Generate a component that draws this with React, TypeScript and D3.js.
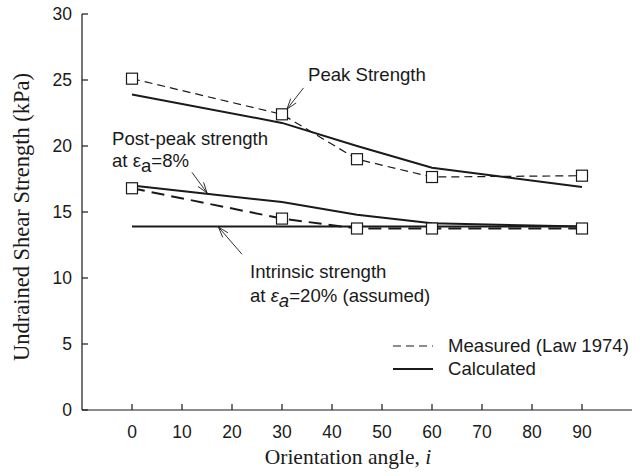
import React from "react";
import * as d3 from "d3";

const angles = [0, 30, 45, 60, 90];
const peakMeasured = [25.1, 22.4, 19.0, 17.65, 17.75];
const peakCalculated = [23.9, 21.75, 20.0, 18.35, 16.9];
const postPeakMeasured = [16.8, 14.5, 13.75, 13.75, 13.75];
const postPeakCalculated = [17.0, 15.75, 14.8, 14.15, 13.9];
const intrinsicAngles = [0, 90];
const intrinsicValues = [13.9, 13.9];
const xTicks = [0, 10, 20, 30, 40, 50, 60, 70, 80, 90];
const yTicks = [0, 5, 10, 15, 20, 25, 30];

const W = 640;
const H = 476;
const LEFT = 82;
const RIGHT = 632;
const TOP = 14;
const BOTTOM = 410;
const INK = "#1a1a1a";
const SANS = "Liberation Sans, Arial, sans-serif";
const SERIF = "Liberation Serif, Times New Roman, serif";
const ANN = 18.6;

export default function App() {
  const x = d3.scaleLinear().domain([-10, 100]).range([LEFT, RIGHT]);
  const y = d3.scaleLinear().domain([0, 30]).range([BOTTOM, TOP]);
  const line = d3
    .line<[number, number]>()
    .x((d) => x(d[0]))
    .y((d) => y(d[1]));
  const pts = (vals: number[], xs: number[] = angles) =>
    xs.map((a, i) => [a, vals[i]] as [number, number]);

  const arrow = (x1: number, y1: number, x2: number, y2: number) => {
    const px1 = x(x1), py1 = y(y1), px2 = x(x2), py2 = y(y2);
    const ang = Math.atan2(py2 - py1, px2 - px1);
    const L = 11, spread = 0.32;
    const a1 = [px2 - L * Math.cos(ang - spread), py2 - L * Math.sin(ang - spread)];
    const a2 = [px2 - L * Math.cos(ang + spread), py2 - L * Math.sin(ang + spread)];
    return (
      <g stroke={INK} strokeWidth={0.9} fill="none">
        <line x1={px1} y1={py1} x2={px2} y2={py2} />
        <path d={`M${a1[0]},${a1[1]}L${px2},${py2}L${a2[0]},${a2[1]}`} />
      </g>
    );
  };

  const squares = (vals: number[]) =>
    angles.map((a, i) => (
      <rect
        key={i}
        x={x(a) - 5.5}
        y={y(vals[i]) - 5.5}
        width={11}
        height={11}
        fill="white"
        stroke={INK}
        strokeWidth={1.2}
      />
    ));

  return (
    <svg
      width={W}
      height={H}
      style={{ position: "absolute", left: 0, top: 0, background: "white" }}
    >
      {/* axes */}
      <line x1={LEFT} y1={TOP} x2={LEFT} y2={BOTTOM} stroke={INK} strokeWidth={1.2} />
      <line x1={LEFT} y1={BOTTOM} x2={RIGHT} y2={BOTTOM} stroke={INK} strokeWidth={1.2} />
      {yTicks.map((t) => (
        <g key={t}>
          <line x1={LEFT} x2={LEFT + 6} y1={y(t)} y2={y(t)} stroke={INK} strokeWidth={1.2} />
          <text
            x={LEFT - 10}
            y={y(t)}
            dy="0.36em"
            textAnchor="end"
            fontFamily={SANS}
            fontSize={17.5}
            fill={INK}
          >
            {t}
          </text>
        </g>
      ))}
      {xTicks.map((t) => (
        <g key={t}>
          <line x1={x(t)} x2={x(t)} y1={BOTTOM} y2={BOTTOM - 6} stroke={INK} strokeWidth={1.2} />
          <text
            x={x(t)}
            y={BOTTOM + 28}
            textAnchor="middle"
            fontFamily={SANS}
            fontSize={17.5}
            fill={INK}
          >
            {t}
          </text>
        </g>
      ))}
      <text
        x={348}
        y={464}
        textAnchor="middle"
        fontFamily={SERIF}
        fontSize={21.5}
        fill={INK}
      >
        Orientation angle, <tspan fontStyle="italic">i</tspan>
      </text>
      <text
        transform={`translate(29,217) rotate(-90)`}
        textAnchor="middle"
        fontFamily={SERIF}
        fontSize={22.5}
        fill={INK}
      >
        Undrained Shear Strength (kPa)
      </text>

      {/* series */}
      <path
        d={line(pts(intrinsicValues, intrinsicAngles)) || ""}
        fill="none"
        stroke={INK}
        strokeWidth={2}
      />
      <path
        d={line(pts(peakCalculated)) || ""}
        fill="none"
        stroke={INK}
        strokeWidth={2}
      />
      <path
        d={line(pts(postPeakCalculated)) || ""}
        fill="none"
        stroke={INK}
        strokeWidth={2}
      />
      <path
        d={line(pts(peakMeasured)) || ""}
        fill="none"
        stroke={INK}
        strokeWidth={1.2}
        strokeDasharray="8,5"
      />
      <path
        d={line(pts(postPeakMeasured)) || ""}
        fill="none"
        stroke={INK}
        strokeWidth={2}
        strokeDasharray="13,7"
      />
      {squares(peakMeasured)}
      {squares(postPeakMeasured)}

      {/* annotations */}
      <text x={x(35.2)} y={y(24.9)} fontFamily={SANS} fontSize={ANN} fill={INK}>
        Peak Strength
      </text>
      {arrow(34.3, 24.4, 31, 22.8)}
      <text x={x(-4)} y={y(20.1)} fontFamily={SANS} fontSize={ANN} fill={INK}>
        Post-peak strength
      </text>
      <text x={x(-4)} y={y(18.4)} fontFamily={SANS} fontSize={ANN} fill={INK}>
        at ε
        <tspan dy={5}>a</tspan>
        <tspan dy={-5}>=8%</tspan>
      </text>
      {arrow(12, 18.0, 15, 16.45)}
      <text x={x(23.6)} y={y(10.0)} fontFamily={SANS} fontSize={ANN} fill={INK}>
        Intrinsic strength
      </text>
      <text x={x(23.6)} y={y(8.15)} fontFamily={SANS} fontSize={ANN} fill={INK}>
        at <tspan fontStyle="italic">ε</tspan>
        <tspan dy={5} fontStyle="italic">a</tspan>
        <tspan dy={-5}>=20% (assumed)</tspan>
      </text>
      {arrow(22, 11.8, 17.3, 13.85)}

      {/* legend */}
      <line x1={393} x2={433} y1={346} y2={346} stroke={INK} strokeWidth={1.2} strokeDasharray="8,5" />
      <text x={448} y={352} fontFamily={SANS} fontSize={ANN} fill={INK}>
        Measured (Law 1974)
      </text>
      <line x1={393} x2={433} y1={369} y2={369} stroke={INK} strokeWidth={2} />
      <text x={448} y={375} fontFamily={SANS} fontSize={ANN} fill={INK}>
        Calculated
      </text>
    </svg>
  );
}
